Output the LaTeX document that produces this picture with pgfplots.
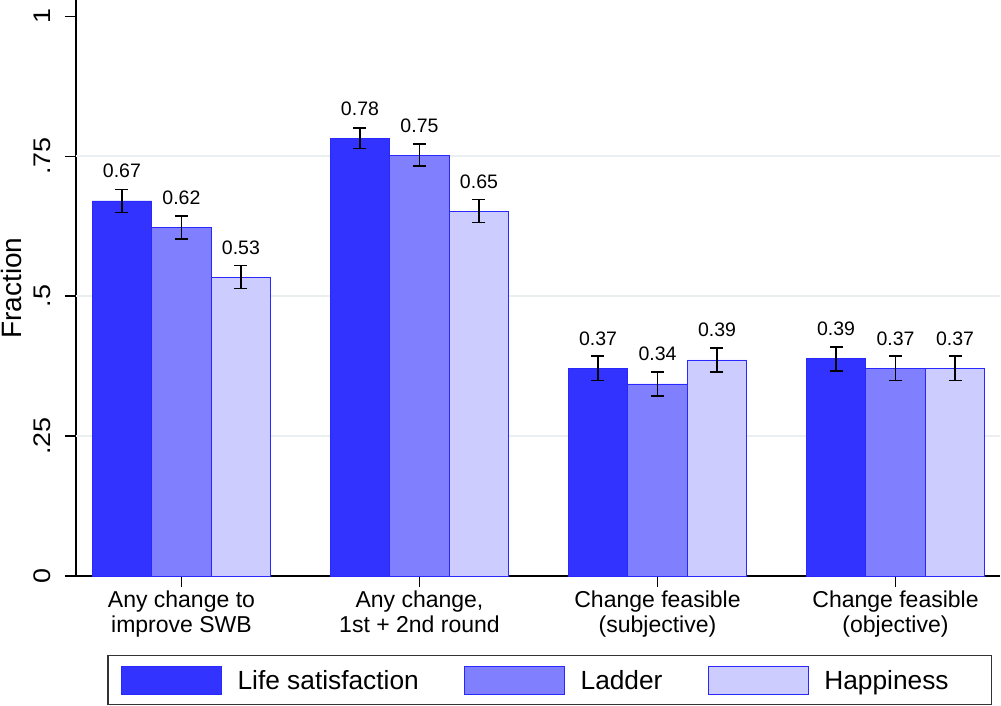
\documentclass[border=0pt]{standalone}
\usepackage{pgfplots}
\pgfplotsset{compat=1.18}
\usepackage{fontspec}
\setmainfont{Liberation Sans}
\definecolor{ls}{RGB}{51,51,255}
\definecolor{ld}{RGB}{128,128,255}
\definecolor{hp}{RGB}{204,204,255}
\definecolor{edge}{RGB}{40,40,255}
\definecolor{gridc}{RGB}{234,240,242}
\newcommand{\tl}{\fontsize{23}{25}\selectfont}
\pgfplotsset{
  swatch/.style={legend image code/.code={\draw[##1, line width=0.8pt] (0pt,-5pt) rectangle (100pt,23pt);}},
  errs/.style={error bars/.cd, y dir=both, y explicit, error mark=|,
    error bar style={line width=1.6pt, black},
    error mark options={black, line width=1.6pt, mark size=6.5pt}},
}
\begin{document}
\begin{tikzpicture}
\begin{axis}[
  scale only axis, width=924pt, height=576pt,
  xmin=-0.443, xmax=3.439, ymin=0, ymax=1.029,
  ybar=0pt, bar width=59.5pt,
  axis x line*=bottom, axis y line*=left,
  axis line style={line width=1.3pt, black, -},
  xtick={0,1,2,3},
  xticklabels={Any change to\\improve SWB, {Any change,\\1st + 2nd round}, Change feasible\\(subjective), Change feasible\\(objective)},
  xticklabel style={align=center, font=\tl},
  ytick={0,0.25,0.5,0.75,1}, yticklabels={0,.25,.5,.75,1},
  yticklabel style={xshift=-14pt, rotate=90, xscale=1.12, anchor=base, font=\fontsize{24}{26}\selectfont},
  tick align=outside, major tick length=11pt,
  tick style={line width=1.3pt, black},
  extra y ticks={0.25,0.5,0.75}, extra y tick labels={},
  extra y tick style={grid=major, major tick length=0pt, major grid style={gridc, line width=1.8pt}},
  ylabel={Fraction},
  ylabel style={at={(axis description cs:-0.0585,0.5)}, anchor=base, font=\fontsize{28}{30}\selectfont},
  /pgf/number format/fixed, /pgf/number format/fixed zerofill,
  /pgf/number format/precision=2, /pgf/number format/assume math mode=true,
  nodes near coords,
  every node near coord/.append style={anchor=base, yshift=23pt, text=black, font=\fontsize{19.5}{21}\selectfont},
  legend columns=3,
  legend style={at={(axis description cs:0.03355,-0.13715)}, anchor=north west,
    draw=black!80, line width=1.5pt, inner xsep=13pt, inner ysep=10pt,
    /tikz/every even column/.append style={column sep=45pt},
    /tikz/every odd column/.append style={column sep=16pt},
    nodes={inner sep=0pt, anchor=base west},
    font=\fontsize{26.3}{28}\selectfont},
]
\addplot[fill=ls, draw=edge, line width=0.8pt, swatch, errs] coordinates {
  (0,0.670) +- (0,0.0206)
  (1,0.782) +- (0,0.0180)
  (2,0.371) +- (0,0.0215)
  (3,0.388) +- (0,0.0215)
};
\addlegendentry{Life satisfaction}
\addplot[fill=ld, draw=edge, line width=0.8pt, swatch, errs] coordinates {
  (0,0.623) +- (0,0.0206)
  (1,0.752) +- (0,0.0197)
  (2,0.343) +- (0,0.0215)
  (3,0.371) +- (0,0.0215)
};
\addlegendentry{Ladder}
\addplot[fill=hp, draw=edge, line width=0.8pt, swatch, errs] coordinates {
  (0,0.534) +- (0,0.0206)
  (1,0.652) +- (0,0.0206)
  (2,0.386) +- (0,0.0215)
  (3,0.371) +- (0,0.0215)
};
\addlegendentry{Happiness\rule{30pt}{0pt}}
\end{axis}
\pgfresetboundingbox
\path[use as bounding box] (current axis.south west) ++(-76pt,-130pt) rectangle ([xshift=1pt]current axis.north east);
\end{tikzpicture}
\end{document}
